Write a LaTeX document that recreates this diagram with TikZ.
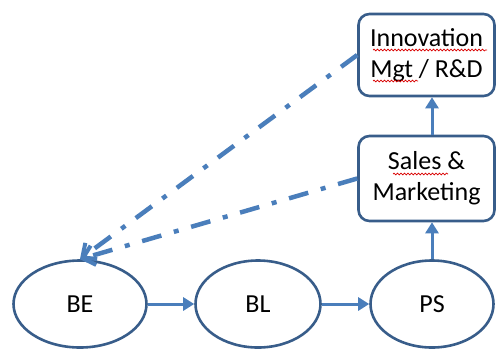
\documentclass[tikz,border=0pt]{standalone}
\usepackage{fontspec}
\setmainfont{Carlito}
\usetikzlibrary{shapes.geometric,arrows.meta,decorations.pathmorphing}
\definecolor{outl}{RGB}{56,93,138}
\definecolor{conn}{RGB}{74,126,187}
\begin{document}
\begin{tikzpicture}[x=1pt,y=-1pt,
  oval/.style={ellipse,draw=outl,line width=2.6pt,inner sep=0pt,minimum height=87pt,font=\fontsize{26}{31}\selectfont},
  rbox/.style={draw=outl,line width=2.6pt,rounded corners=11pt,minimum width=136pt,inner sep=0pt,align=center,font=\fontsize{26}{31}\selectfont},
  flow/.style={draw=conn,line width=3pt,-{Triangle[length=11pt,width=13pt]}},
  dd/.style={draw=conn,line width=4.5pt,dash pattern=on 20pt off 13pt on 5pt off 13pt,-{Straight Barb[length=11pt,width=20pt,line width=4pt]}},
  squig/.style={draw=red!85!black,line width=0.7pt,decorate,decoration={snake,amplitude=0.9pt,segment length=3.5pt}}]
\useasboundingbox (0,0) rectangle (498,349);
\node[oval,minimum width=133pt] (BE) at (80,304) {BE};
\node[oval,minimum width=125pt] (BL) at (258,304) {BL};
\node[oval,minimum width=123pt] (PS) at (432,304) {PS};
\node[rbox,minimum height=82pt] (IN) at (426.5,55) {Innovation\\Mgt / R\&D};
\node[rbox,minimum height=85pt] (SM) at (426.5,178.5) {Sales \&\\Marketing};
\draw[flow] (BE) -- (BL);
\draw[flow] (BL) -- (PS);
\draw[flow] (PS.north) -- (PS.north |- SM.south);
\draw[flow] (SM.north -| PS.north) -- (PS.north |- IN.south);
\draw[dd] (IN.west) -- (BE.north);
\draw[dd] (SM.west) -- (BE.north);
\draw[squig] (373,50) -- (487,50);
\draw[squig] (373,81) -- (418,81);
\draw[squig] (393,174) -- (448,174);
\end{tikzpicture}
\end{document}
